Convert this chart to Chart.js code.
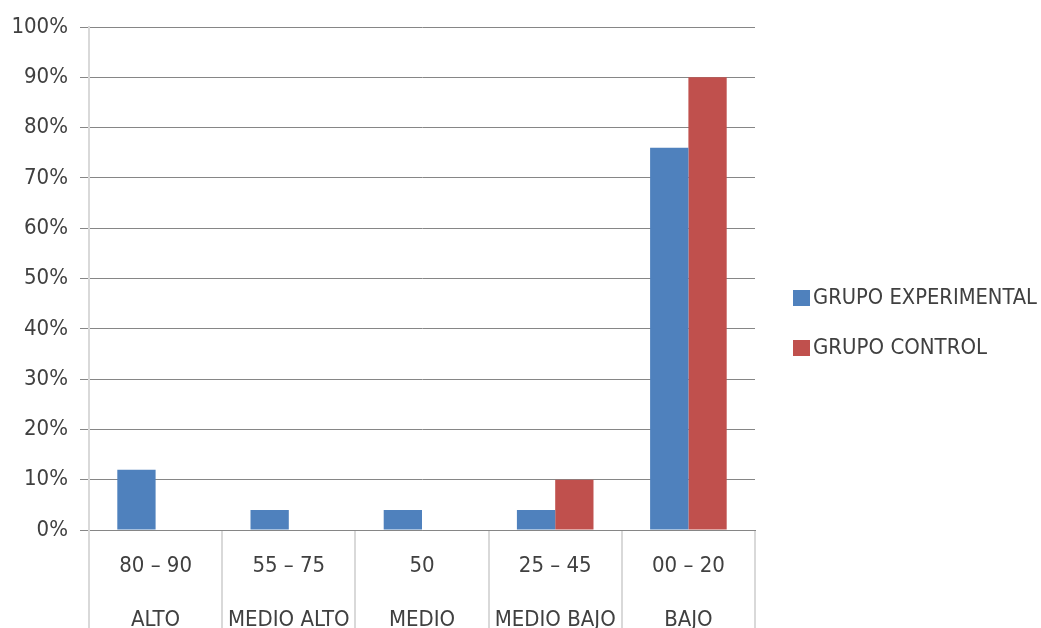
<!DOCTYPE html>
<html>
<head>
<meta charset="utf-8">
<script src="https://cdn.jsdelivr.net/npm/chart.js@4/dist/chart.umd.min.js"></script>
<style>
  html, body { margin: 0; padding: 0; background: #ffffff; }
  #wrap { width: 1041px; height: 628px; position: relative; }
</style>
</head>
<body>
<div id="wrap"><canvas id="c" width="1041" height="628"></canvas></div>
<script>
// Score ranges and their level names (two-line category labels)
const ranges = ['80 – 90', '55 – 75', '50', '25 – 45', '00 – 20'];
const levels = ['ALTO', 'MEDIO ALTO', 'MEDIO', 'MEDIO BAJO', 'BAJO'];

// Percentage of students per level
const experimental = [12, 4, 4, 4, 76];
const control = [0, 0, 0, 10, 90];

const seriesNames = ['GRUPO EXPERIMENTAL', 'GRUPO CONTROL'];
const seriesColors = ['#4F81BD', '#C0504D'];

const yTicks = [0, 10, 20, 30, 40, 50, 60, 70, 80, 90, 100];

const FONT = '"Liberation Sans Narrow", "DejaVu Sans Condensed", "Open Sans", sans-serif';
const TEXT = '#404040';

const labels = ranges.map((r, i) => [r, levels[i]]);

// Legend drawn to the right of the plot; long names are squeezed to fit the margin
const sideLegend = {
  id: 'sideLegend',
  afterDraw(chart) {
    const ctx = chart.ctx;
    const maxW = 224;
    ctx.save();
    ctx.font = '22px ' + FONT;
    ctx.textBaseline = 'middle';
    ctx.textAlign = 'left';
    chart.data.datasets.forEach((ds, i) => {
      const cy = 298 + i * 50;
      ctx.fillStyle = ds.backgroundColor;
      ctx.fillRect(793, cy - 8, 17, 16);
      ctx.fillStyle = TEXT;
      const w = ctx.measureText(ds.label).width;
      const k = Math.min(1, maxW / w);
      ctx.save();
      ctx.translate(813, cy);
      ctx.scale(k, 1);
      ctx.fillText(ds.label, 0, 0);
      ctx.restore();
    });
    ctx.restore();
  }
};

new Chart(document.getElementById('c'), {
  type: 'bar',
  data: {
    labels: labels,
    datasets: [
      { label: seriesNames[0], data: experimental, backgroundColor: seriesColors[0] },
      { label: seriesNames[1], data: control, backgroundColor: seriesColors[1] }
    ]
  },
  options: {
    responsive: false,
    animation: false,
    devicePixelRatio: 1,
    categoryPercentage: 0.575,
    barPercentage: 1,
    layout: { padding: { top: 27, right: 286, left: 0, bottom: 0 } },
    plugins: {
      legend: { display: false },
      tooltip: { enabled: false }
    },
    scales: {
      x: {
        offset: true,
        grid: {
          offset: true,
          drawOnChartArea: false,
          drawTicks: true,
          tickLength: 98,
          color: '#d9d9d9',
          lineWidth: 2
        },
        border: { display: true, color: '#868686', width: 1 },
        ticks: {
          color: TEXT,
          font: { family: FONT, size: 22, lineHeight: '54px' },
          padding: -89,
          maxRotation: 0,
          autoSkip: false
        },
        afterFit(scale) { scale.height = 98; }
      },
      y: {
        min: 0,
        max: 100,
        afterBuildTicks(scale) { scale.ticks = yTicks.map(v => ({ value: v })); },
        grid: {
          color: '#868686',
          lineWidth: 1,
          drawTicks: true,
          tickLength: 9
        },
        border: { display: true, color: '#d9d9d9', width: 2 },
        ticks: {
          color: TEXT,
          font: { family: FONT, size: 22 },
          padding: 12,
          callback: v => v + '%'
        },
        afterFit(scale) { scale.width = 89; }
      }
    }
  },
  plugins: [sideLegend]
});
</script>
</body>
</html>
